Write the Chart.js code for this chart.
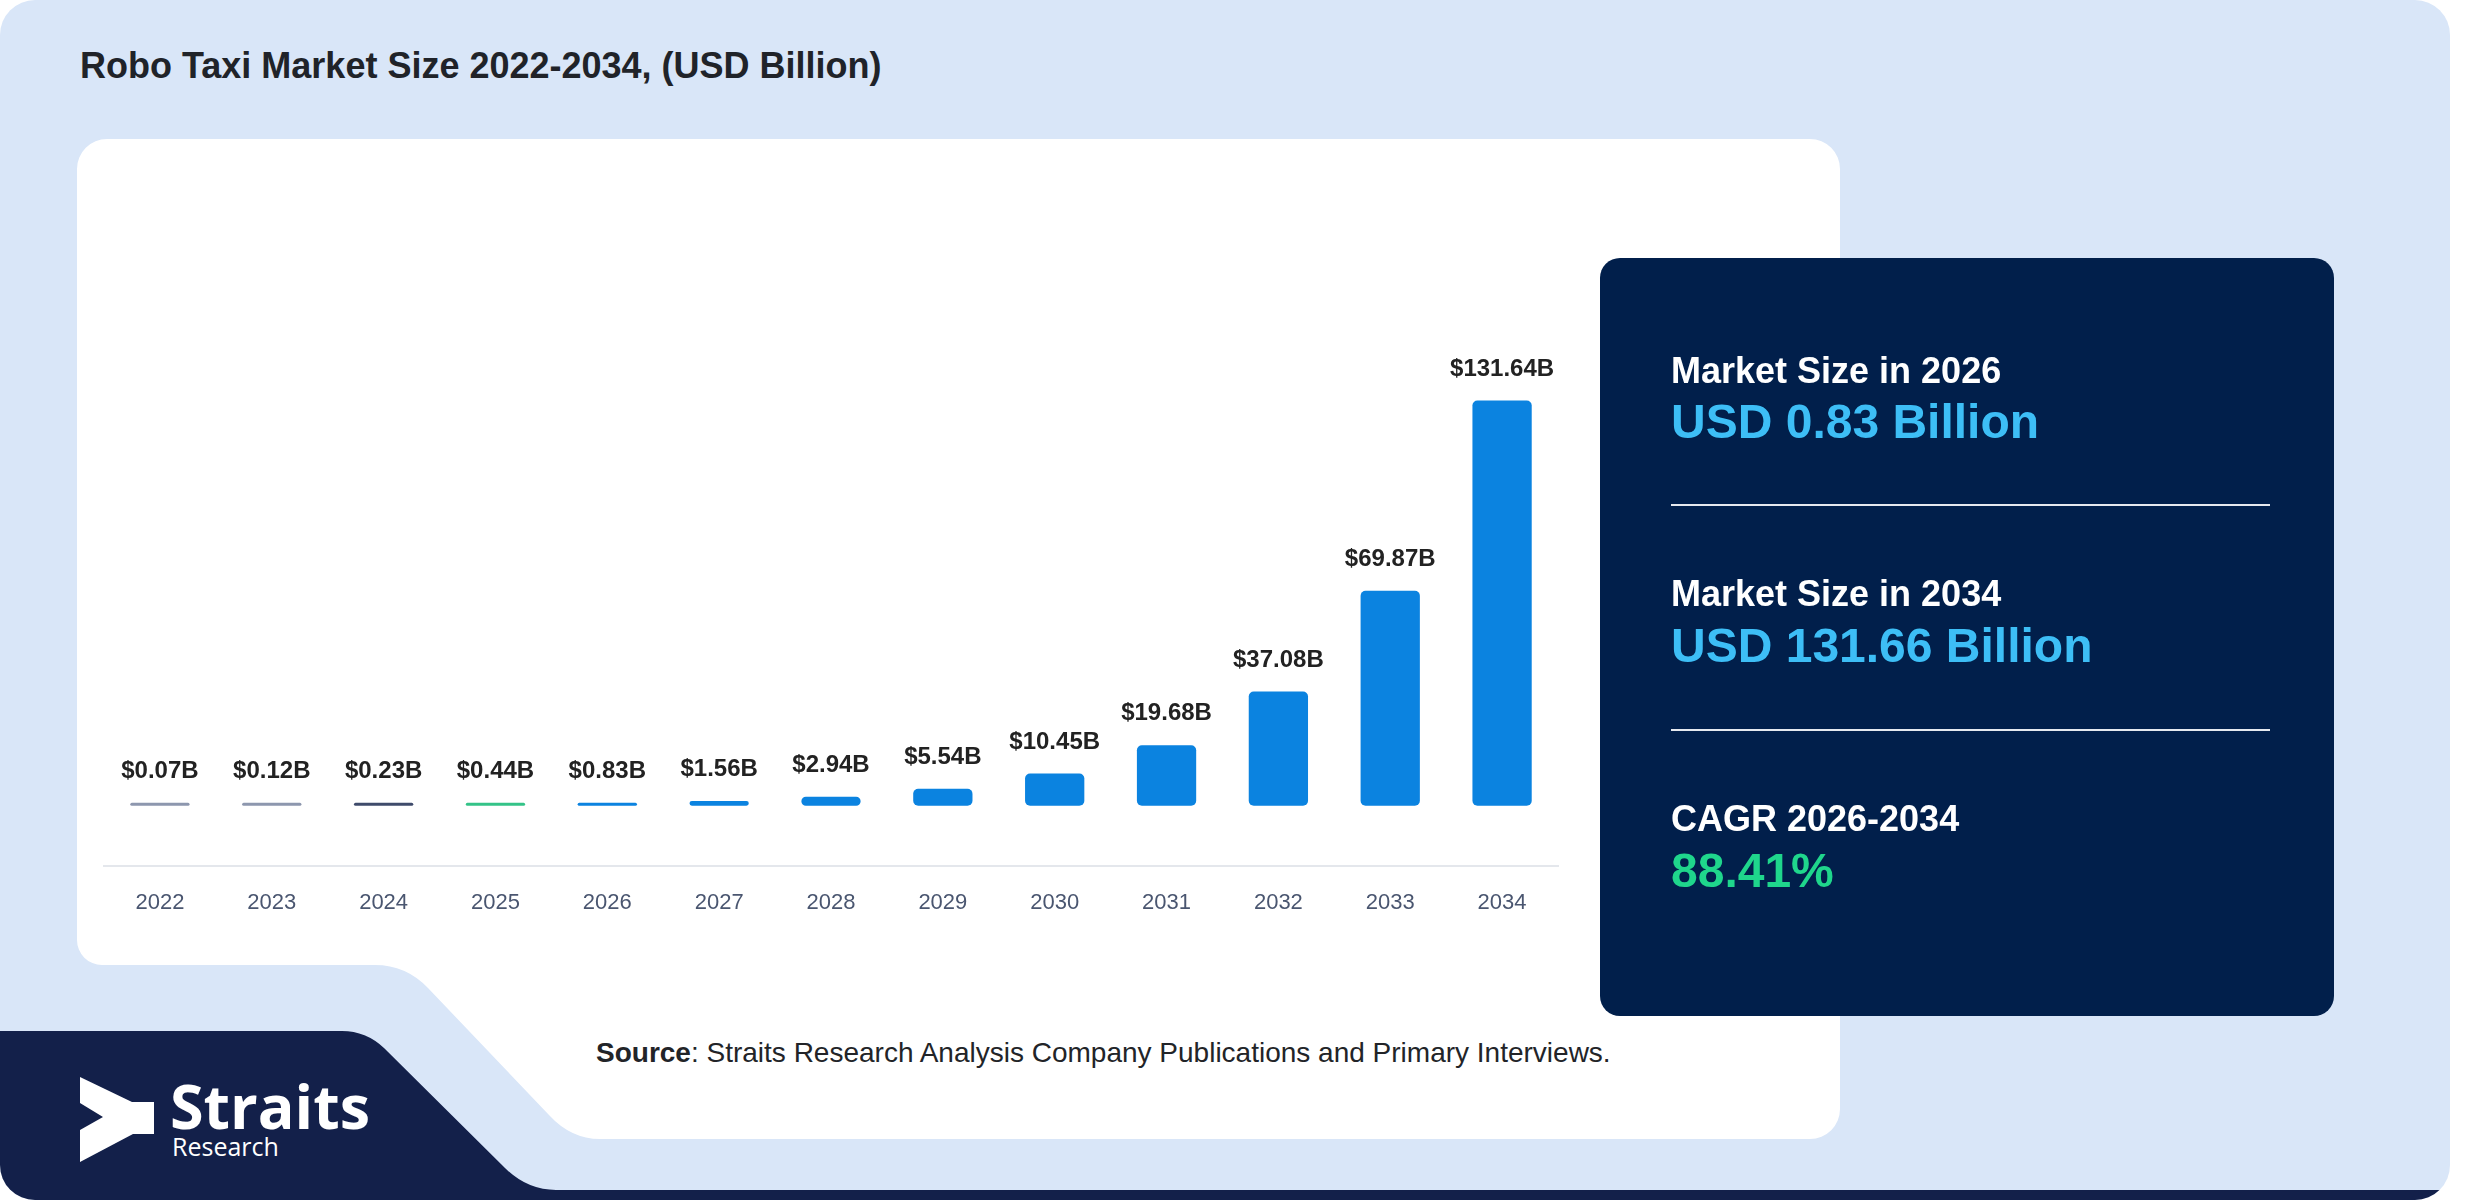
<!DOCTYPE html>
<html>
<head>
<meta charset="utf-8">
<script src="https://cdn.jsdelivr.net/npm/chart.js@4.4.1/dist/chart.umd.min.js"></script>
<style>
  html, body { margin: 0; padding: 0; background: #ffffff; }
  #stage { position: relative; width: 2480px; height: 1200px; overflow: hidden; }
  #bg { position: absolute; left: 0; top: 0; }
  #chartBox { position: absolute; left: 77px; top: 141px; width: 1523px; height: 800px; }
  #fg { position: absolute; left: 0; top: 0; pointer-events: none; }
</style>
</head>
<body>
<div id="stage">
<svg id="bg" width="2480" height="1200" viewBox="0 0 2480 1200">
  <defs>
    <clipPath id="outerClip">
      <rect x="0" y="0" width="2450" height="1200" rx="35" ry="35"/>
    </clipPath>
  </defs>
  <g clip-path="url(#outerClip)">
    <rect x="0" y="0" width="2450" height="1200" fill="#d9e6f8"/>
    <path d="M 107 139 H 1810 A 30 30 0 0 1 1840 169 V 1109 A 30 30 0 0 1 1810 1139 H 600 Q 571 1139 549 1115 L 428 988 Q 406 965 375 965 H 102 A 25 25 0 0 1 77 940 V 169 A 30 30 0 0 1 107 139 Z" fill="#ffffff"/>
    <path d="M 0 1031 H 342 Q 366 1031 384 1048 L 505 1168 Q 527 1190 556 1190 H 2460 V 1210 H 0 Z" fill="#13204a"/>
  </g>
  <text x="80" y="78" font-family="Liberation Sans, Arial, sans-serif" font-weight="700" font-size="36" fill="#202329">Robo Taxi Market Size 2022-2034, (USD Billion)</text>
  <text x="596" y="1062" font-family="Liberation Sans, Arial, sans-serif" font-size="28" fill="#222428"><tspan font-weight="700">Source</tspan>: Straits Research Analysis Company Publications and Primary Interviews.</text>
  <path d="M 80 1077 L 132 1102 L 154 1102 L 154 1134 L 133 1134 L 80 1162 L 80 1130 L 103 1117 L 80 1103 Z" fill="#ffffff"/>
  <text x="170" y="1129" font-family="Open Sans, sans-serif" font-weight="700" font-size="61" fill="#ffffff">Straits</text>
  <text x="172" y="1156" font-family="Open Sans, sans-serif" font-size="25" fill="#ffffff">Research</text>
</svg>
<div id="chartBox"><canvas id="chart" width="1523" height="800"></canvas></div>
<svg id="fg" width="2480" height="1200" viewBox="0 0 2480 1200">
  <rect x="1600" y="258" width="734" height="758" rx="20" ry="20" fill="#011f4b"/>
  <g font-family="Liberation Sans, Arial, sans-serif" font-weight="700">
    <text x="1671" y="383" font-size="36" fill="#ffffff">Market Size in 2026</text>
    <text x="1671" y="438" font-size="48" fill="#3dbef6">USD 0.83 Billion</text>
    <rect x="1671" y="504" width="599" height="2" fill="#e6e9ef"/>
    <text x="1671" y="606" font-size="36" fill="#ffffff">Market Size in 2034</text>
    <text x="1671" y="662" font-size="48" fill="#3dbef6">USD 131.66 Billion</text>
    <rect x="1671" y="729" width="599" height="2" fill="#e6e9ef"/>
    <text x="1671" y="831" font-size="36" fill="#ffffff">CAGR 2026-2034</text>
    <text x="1671" y="887" font-size="48" fill="#1fd68c">88.41%</text>
  </g>
</svg>
</div>
<script>
const years = ['2022','2023','2024','2025','2026','2027','2028','2029','2030','2031','2032','2033','2034'];
const marketSize = [0.07, 0.12, 0.23, 0.44, 0.83, 1.56, 2.94, 5.54, 10.45, 19.68, 37.08, 69.87, 131.64];
const valueLabels = ['$0.07B','$0.12B','$0.23B','$0.44B','$0.83B','$1.56B','$2.94B','$5.54B','$10.45B','$19.68B','$37.08B','$69.87B','$131.64B'];
const barColors = ['#8d97ae','#8d97ae','#3f4b6b','#34c388','#0b83e0','#0b83e0','#0b83e0','#0b83e0','#0b83e0','#0b83e0','#0b83e0','#0b83e0','#0b83e0'];

const valueLabelPlugin = {
  id: 'valueLabels',
  afterDatasetsDraw(chart) {
    const ctx = chart.ctx;
    const meta = chart.getDatasetMeta(0);
    ctx.save();
    ctx.font = '700 24px "Liberation Sans", Arial, sans-serif';
    ctx.fillStyle = '#222222';
    ctx.textAlign = 'center';
    ctx.textBaseline = 'alphabetic';
    meta.data.forEach((bar, i) => {
      ctx.fillText(valueLabels[i], bar.x, bar.y - 25);
    });
    ctx.restore();
  }
};

new Chart(document.getElementById('chart'), {
  type: 'bar',
  data: {
    labels: years,
    datasets: [{
      data: marketSize,
      backgroundColor: barColors,
      borderWidth: 0,
      borderRadius: 5,
      borderSkipped: false,
      minBarLength: 3,
      categoryPercentage: 1.0,
      barPercentage: 0.53
    }]
  },
  options: {
    responsive: false,
    devicePixelRatio: 1,
    animation: false,
    layout: { padding: { left: 27, right: 42, top: 100, bottom: 1 } },
    plugins: { legend: { display: false }, tooltip: { enabled: false }, title: { display: false } },
    scales: {
      x: {
        grid: { display: false, drawTicks: false },
        border: { display: true, color: '#e4e7ec', width: 2 },
        ticks: {
          color: '#4a5670',
          padding: 24,
          font: { family: '"Liberation Sans", Arial, sans-serif', size: 22 }
        }
      },
      y: {
        display: false,
        min: -19.45,
        max: 183.5
      }
    }
  },
  plugins: [valueLabelPlugin]
});
</script>
</body>
</html>
